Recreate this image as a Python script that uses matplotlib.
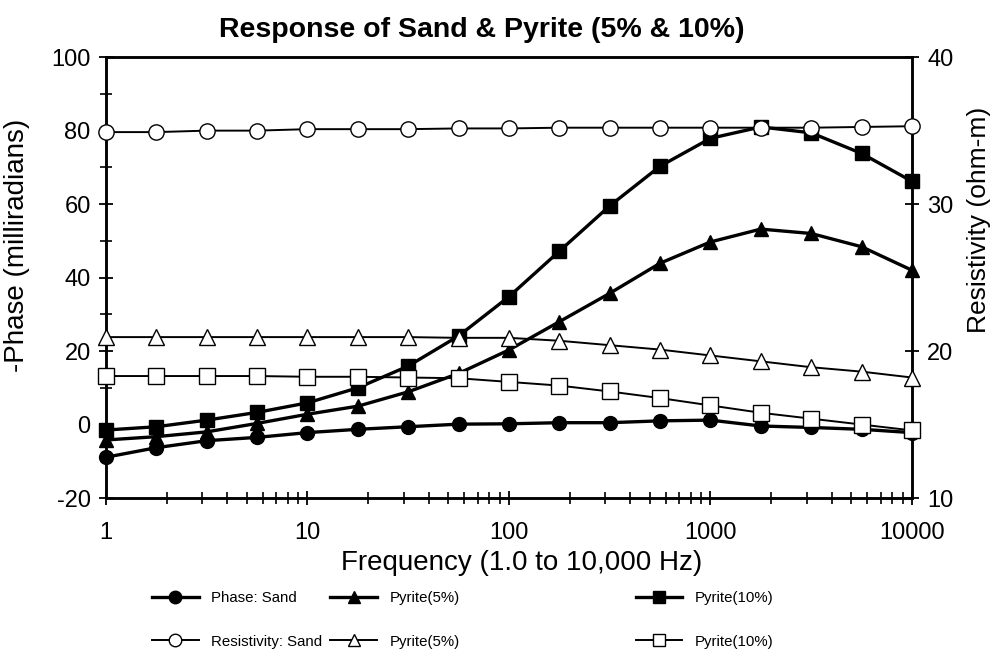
import matplotlib
matplotlib.use("Agg")
import matplotlib.pyplot as plt
from matplotlib.lines import Line2D
from matplotlib.ticker import FixedLocator, MultipleLocator, LogLocator, NullFormatter
import numpy as np

plt.rcParams['font.family'] = ['Liberation Sans', 'DejaVu Sans']
plt.rcParams['axes.unicode_minus'] = False

# ---------------------------------------------------------
# data: 4 frequencies per decade, 1 Hz to 10 kHz
# ---------------------------------------------------------
freq = [1, 1.78, 3.16, 5.62, 10, 17.8, 31.6, 56.2, 100,
        178, 316, 562, 1000, 1778, 3162, 5623, 10000]

# -phase (milliradians), left axis
phase_sand = [-8.9, -6.3, -4.4, -3.5, -2.2, -1.3, -0.6, 0.1, 0.2,
              0.5, 0.5, 1.0, 1.2, -0.4, -0.8, -1.3, -2.2]
phase_py5 = [-4.2, -3.3, -2.0, 0.3, 2.8, 5.0, 8.9, 13.9, 20.3,
             28.0, 35.7, 43.9, 49.7, 53.2, 52.0, 48.4, 42.0]
phase_py10 = [-1.5, -0.6, 1.2, 3.3, 5.9, 10.0, 15.9, 24.1, 34.8,
              47.2, 59.5, 70.3, 77.9, 81.0, 79.4, 73.8, 66.2]

# resistivity (ohm-m), right axis
res_sand = [34.9, 34.9, 35.0, 35.0, 35.1, 35.1, 35.1, 35.15, 35.15,
            35.2, 35.2, 35.2, 35.2, 35.2, 35.2, 35.25, 35.3]
res_py5 = [20.95, 20.95, 20.95, 20.95, 20.95, 20.95, 20.95, 20.9, 20.9,
           20.7, 20.4, 20.1, 19.7, 19.3, 18.9, 18.6, 18.2]
res_py10 = [18.3, 18.3, 18.3, 18.3, 18.25, 18.25, 18.2, 18.15, 17.9,
            17.65, 17.25, 16.8, 16.3, 15.8, 15.4, 15.0, 14.6]

xticks = [1, 10, 100, 1000, 10000]

# ---------------------------------------------------------
# figure
# ---------------------------------------------------------
fig = plt.figure(figsize=(9.95, 6.57), dpi=100)
ax = fig.add_axes([0.1065, 0.242, 0.81, 0.671])
ax2 = ax.twinx()

thick = dict(color='black', lw=2.4, markersize=10, clip_on=False, zorder=3)
thin = dict(color='black', lw=1.4, markersize=11, markerfacecolor='white',
            markeredgewidth=1.0, clip_on=False, zorder=3)

ax.plot(freq, phase_sand, marker='o', **thick)
ax.plot(freq, phase_py5, marker='^', **thick)
ax.plot(freq, phase_py10, marker='s', **thick)

ax2.plot(freq, res_sand, marker='o', **thin)
ax2.plot(freq, res_py5, marker='^', **thin)
ax2.plot(freq, res_py10, marker='s', **thin)

ax.set_xscale('log')
ax.set_xlim(1, 10000)
ax.set_ylim(-20, 100)
ax2.set_ylim(10, 40)

ax.xaxis.set_major_locator(FixedLocator(xticks))
ax.set_xticklabels([str(t) for t in xticks])
ax.xaxis.set_minor_locator(LogLocator(base=10, subs=np.arange(2, 10)))
ax.xaxis.set_minor_formatter(NullFormatter())
ax.yaxis.set_major_locator(MultipleLocator(20))
ax.yaxis.set_minor_locator(MultipleLocator(10))
ax2.yaxis.set_major_locator(MultipleLocator(10))

for a in (ax, ax2):
    a.tick_params(which='major', direction='inout', length=10, width=1.3,
                  labelsize=17, pad=6)
    a.tick_params(which='minor', direction='inout', length=8, width=1.2)
    for s in a.spines.values():
        s.set_linewidth(1.8)
ax.tick_params(axis='x', which='major', pad=12)

ax.set_xlabel("Frequency (1.0 to 10,000 Hz)", fontsize=20)
ax.xaxis.set_label_coords(0.516, -0.118)
ax.set_ylabel("-Phase (milliradians)", fontsize=20)
ax.yaxis.set_label_coords(-0.094, 0.574)
ax2.set_ylabel("Resistivity (ohm-m)", fontsize=19)
ax2.yaxis.set_label_coords(1.068, 0.63)

fig.text(0.4845, 0.954, "Response of Sand & Pyrite (5% & 10%)", fontsize=20.5,
         fontweight='bold', ha='center', va='center')

# ---------------------------------------------------------
# legend: three columns, two rows
# ---------------------------------------------------------
def h(marker, filled):
    if filled:
        return Line2D([], [], color='black', lw=2.4, marker=marker, markersize=9)
    return Line2D([], [], color='black', lw=1.4, marker=marker, markersize=9,
                  markerfacecolor='white')

columns = [
    (0.153, [h('o', True), h('o', False)], ["Phase: Sand", "Resistivity: Sand"]),
    (0.332, [h('^', True), h('^', False)], ["Pyrite(5%)", "Pyrite(5%)"]),
    (0.639, [h('s', True), h('s', False)], ["Pyrite(10%)", "Pyrite(10%)"]),
]
for xpos, handles, labels in columns:
    fig.legend(handles, labels, loc='upper left', bbox_to_anchor=(xpos, 0.100),
               frameon=False, handlelength=3.1, handletextpad=0.85,
               labelspacing=1.95, borderaxespad=0, borderpad=0, fontsize=10.8)

fig.savefig("out.png", dpi=100)
